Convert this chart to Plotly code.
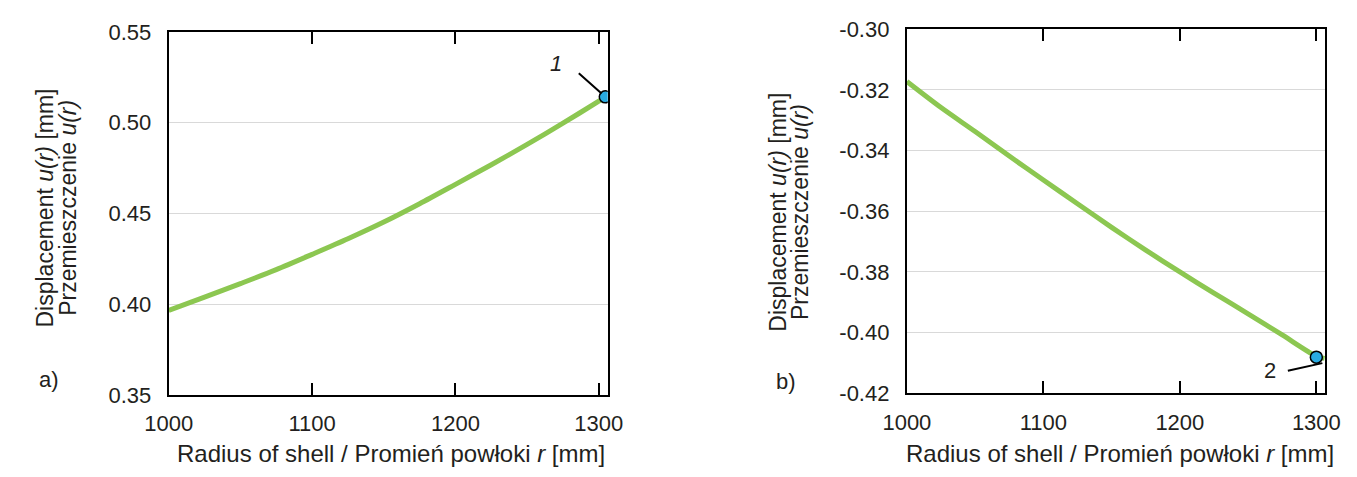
import plotly.graph_objects as go

# Panel a) radial displacement across the shell thickness
r_a = [1000, 1025, 1050, 1075, 1100, 1125, 1150, 1175, 1200, 1225, 1250, 1275, 1300, 1305]
u_a = [0.3965, 0.4038, 0.4113, 0.4190, 0.4274, 0.4360, 0.4452, 0.4553, 0.4660,
       0.4768, 0.4880, 0.4997, 0.5118, 0.5142]
point_a = (1304.5, 0.5142)
label_a = "1"

# Panel b)
r_b = [1000, 1025, 1050, 1075, 1100, 1125, 1150, 1175, 1200, 1225, 1250,
       1275, 1300, 1306]
u_b = [-0.3172, -0.3258, -0.3337, -0.3418, -0.3497, -0.3575, -0.3653,
       -0.3728, -0.3800, -0.3870, -0.3938, -0.4008, -0.4078, -0.4085]
point_b = (1300.0, -0.4081)
label_b = "2"

x_ticks = [1000, 1100, 1200, 1300]
y_ticks_a = [0.35, 0.40, 0.45, 0.50, 0.55]
y_ticks_b = [-0.42, -0.40, -0.38, -0.36, -0.34, -0.32, -0.30]

W, H = 1357, 477
FONT = "Liberation Sans, Arial, sans-serif"
TXT = "#231f20"
GREEN = "#8cc751"
BLUE = "#29abe2"
TICK_SIZE = 22

fig = go.Figure()
fig.add_trace(go.Scatter(x=r_a, y=u_a, mode="lines",
                         line=dict(color=GREEN, width=5, shape="spline", smoothing=0.8),
                         xaxis="x", yaxis="y", showlegend=False))
fig.add_trace(go.Scatter(x=[point_a[0]], y=[point_a[1]], mode="markers",
                         marker=dict(size=12, color=BLUE, line=dict(color="black", width=1.5)),
                         xaxis="x", yaxis="y", showlegend=False))
fig.add_trace(go.Scatter(x=r_b, y=u_b, mode="lines",
                         line=dict(color=GREEN, width=5, shape="spline", smoothing=0.8),
                         xaxis="x2", yaxis="y2", showlegend=False))
fig.add_trace(go.Scatter(x=[point_b[0]], y=[point_b[1]], mode="markers",
                         marker=dict(size=12, color=BLUE, line=dict(color="black", width=1.5)),
                         xaxis="x2", yaxis="y2", showlegend=False))


def px(x):
    return x / W


def py(y):
    return 1 - y / H


xcommon = dict(showline=True, linecolor="black", linewidth=2, mirror="ticks",
               ticks="inside", ticklen=12, tickwidth=2, tickcolor="black",
               showgrid=False, zeroline=False, tickvals=x_ticks,
               tickfont=dict(family=FONT, size=TICK_SIZE, color=TXT), ticklabelstandoff=8)
ycommon = dict(showline=True, linecolor="black", linewidth=2, mirror=True, ticks="",
               showgrid=True, gridcolor="#d9d9d9", gridwidth=1, zeroline=False,
               tickfont=dict(family=FONT, size=TICK_SIZE, color=TXT), ticklabelstandoff=11)

fig.update_layout(
    width=W, height=H, margin=dict(l=0, r=0, t=0, b=0),
    paper_bgcolor="white", plot_bgcolor="white",
    xaxis=dict(domain=[px(149), px(601)], range=[1000, 1306.2], anchor="y", **xcommon),
    yaxis=dict(domain=[py(404), py(21)], range=[0.35, 0.55], anchor="x",
               tickvals=y_ticks_a, ticktext=[f"{v:.2f}" for v in y_ticks_a], **ycommon),
    xaxis2=dict(domain=[px(909), px(1340)], range=[1000, 1306.7], anchor="y2", **xcommon),
    yaxis2=dict(domain=[py(402.3), py(18.3)], range=[-0.42, -0.30], anchor="x2",
                tickvals=y_ticks_b, ticktext=[f"{v:.2f}" for v in y_ticks_b], **ycommon),
)

anns = []


def text(xp, yp, s, size=22, angle=0):
    anns.append(dict(x=px(xp), y=py(yp), xref="paper", yref="paper", text=s,
                     showarrow=False, xanchor="center", yanchor="middle", textangle=angle,
                     font=dict(family=FONT, size=size, color=TXT)))


xtitle = "Radius of shell / Promień powłoki <i>r</i> [mm]"
text(378, 466, xtitle, size=24)
text(1128, 466, xtitle, size=24)
ytitle1 = "Displacement <i>u(r)</i> [mm]"
ytitle2 = "Przemieszczenie <i>u(r)</i>"
text(22, 207, ytitle1, size=23, angle=-90)
text(45, 207, ytitle2, size=23, angle=-90)
text(776, 211, ytitle1, size=23, angle=-90)
text(799, 211, ytitle2, size=23, angle=-90)
text(26, 388, "a)", size=22)
text(785, 390, "b)", size=22)

# callout 1: leader line and italic label
anns.append(dict(x=point_a[0], y=point_a[1], xref="x", yref="y", text="", showarrow=True,
                 arrowhead=0, arrowwidth=2, arrowcolor="black", ax=-28, ay=-25, standoff=5))
anns.append(dict(x=point_a[0], y=point_a[1], xref="x", yref="y", text="<i>" + label_a + "</i>",
                 showarrow=False, xshift=-49, yshift=33,
                 font=dict(family=FONT, size=22, color=TXT)))
# callout 2
anns.append(dict(x=point_b[0], y=point_b[1], xref="x2", yref="y2", text="", showarrow=True,
                 arrowhead=0, arrowwidth=2, arrowcolor="black", ax=-36, ay=8, standoff=0,
                 xshift=6, yshift=-6))
anns.append(dict(x=point_b[0], y=point_b[1], xref="x2", yref="y2", text=label_b,
                 showarrow=False, xshift=-46, yshift=-13,
                 font=dict(family=FONT, size=22, color=TXT)))
fig.update_layout(annotations=anns)

fig.write_html("out.html")
